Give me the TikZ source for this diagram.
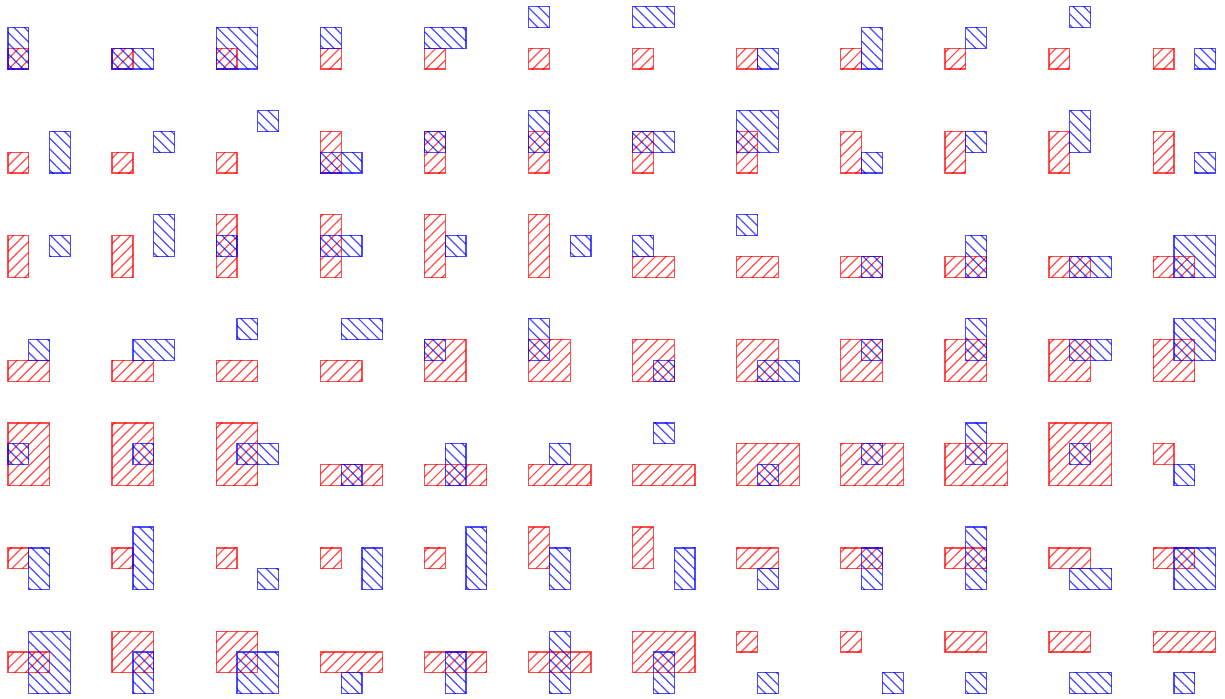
\documentclass[tikz,border=0pt]{standalone}
\usetikzlibrary{patterns.meta}
\begin{document}
\begin{tikzpicture}[x=0.3cm,y=0.3cm,
  redbox/.style={draw=red,draw opacity=0.7,line width=0.5pt,pattern={Lines[angle=45,distance=3.1pt,line width=0.5pt]},pattern color=red},
  bluebox/.style={draw=blue,draw opacity=0.7,line width=0.5pt,pattern={Lines[angle=-45,distance=3.1pt,line width=0.5pt]},pattern color=blue}]
\useasboundingbox (-0.384,-30.21) rectangle (58.45,3.314);
\foreach \c/\r/\ra/\rb/\rc/\rd/\ba/\bb/\bc/\bd in {
  1/1/0/0/1/1/0/0/1/2, 2/1/0/0/1/1/0/0/2/1, 3/1/0/0/1/1/0/0/2/2, 4/1/0/0/1/1/0/1/1/2,
  5/1/0/0/1/1/0/1/2/2, 6/1/0/0/1/1/0/2/1/3, 7/1/0/0/1/1/0/2/2/3, 8/1/0/0/1/1/1/0/2/1,
  9/1/0/0/1/1/1/0/2/2, 10/1/0/0/1/1/1/1/2/2, 11/1/0/0/1/1/1/2/2/3, 12/1/0/0/1/1/2/0/3/1,
  1/2/0/0/1/1/2/0/3/2, 2/2/0/0/1/1/2/1/3/2, 3/2/0/0/1/1/2/2/3/3, 4/2/0/0/1/2/0/0/2/1,
  5/2/0/0/1/2/0/1/1/2, 6/2/0/0/1/2/0/1/1/3, 7/2/0/0/1/2/0/1/2/2, 8/2/0/0/1/2/0/1/2/3,
  9/2/0/0/1/2/1/0/2/1, 10/2/0/0/1/2/1/1/2/2, 11/2/0/0/1/2/1/1/2/3, 12/2/0/0/1/2/2/0/3/1,
  1/3/0/0/1/2/2/1/3/2, 2/3/0/0/1/2/2/1/3/3, 3/3/0/0/1/3/0/1/1/2, 4/3/0/0/1/3/0/1/2/2,
  5/3/0/0/1/3/1/1/2/2, 6/3/0/0/1/3/2/1/3/2, 7/3/0/0/2/1/0/1/1/2, 8/3/0/0/2/1/0/2/1/3,
  9/3/0/0/2/1/1/0/2/1, 10/3/0/0/2/1/1/0/2/2, 11/3/0/0/2/1/1/0/3/1, 12/3/0/0/2/1/1/0/3/2,
  1/4/0/0/2/1/1/1/2/2, 2/4/0/0/2/1/1/1/3/2, 3/4/0/0/2/1/1/2/2/3, 4/4/0/0/2/1/1/2/3/3,
  5/4/0/0/2/2/0/1/1/2, 6/4/0/0/2/2/0/1/1/3, 7/4/0/0/2/2/1/0/2/1, 8/4/0/0/2/2/1/0/3/1,
  9/4/0/0/2/2/1/1/2/2, 10/4/0/0/2/2/1/1/2/3, 11/4/0/0/2/2/1/1/3/2, 12/4/0/0/2/2/1/1/3/3,
  1/5/0/0/2/3/0/1/1/2, 2/5/0/0/2/3/1/1/2/2, 3/5/0/0/2/3/1/1/3/2, 4/5/0/0/3/1/1/0/2/1,
  5/5/0/0/3/1/1/0/2/2, 6/5/0/0/3/1/1/1/2/2, 7/5/0/0/3/1/1/2/2/3, 8/5/0/0/3/2/1/0/2/1,
  9/5/0/0/3/2/1/1/2/2, 10/5/0/0/3/2/1/1/2/3, 11/5/0/0/3/3/1/1/2/2, 12/5/0/1/1/2/1/0/2/1,
  1/6/0/1/1/2/1/0/2/2, 2/6/0/1/1/2/1/0/2/3, 3/6/0/1/1/2/2/0/3/1, 4/6/0/1/1/2/2/0/3/2,
  5/6/0/1/1/2/2/0/3/3, 6/6/0/1/1/3/1/0/2/2, 7/6/0/1/1/3/2/0/3/2, 8/6/0/1/2/2/1/0/2/1,
  9/6/0/1/2/2/1/0/2/2, 10/6/0/1/2/2/1/0/2/3, 11/6/0/1/2/2/1/0/3/1, 12/6/0/1/2/2/1/0/3/2,
  1/7/0/1/2/2/1/0/3/3, 2/7/0/1/2/3/1/0/2/2, 3/7/0/1/2/3/1/0/3/2, 4/7/0/1/3/2/1/0/2/1,
  5/7/0/1/3/2/1/0/2/2, 6/7/0/1/3/2/1/0/2/3, 7/7/0/1/3/3/1/0/2/2, 8/7/0/2/1/3/1/0/2/1,
  9/7/0/2/1/3/2/0/3/1, 10/7/0/2/2/3/1/0/2/1, 11/7/0/2/2/3/1/0/3/1, 12/7/0/2/3/3/1/0/2/1}
{
  \begin{scope}[shift={({5*(\c-1)},{-5*(\r-1)})}]
    \draw[redbox] (\ra,\rb) rectangle (\rc,\rd);
    \draw[bluebox] (\ba,\bb) rectangle (\bc,\bd);
  \end{scope}
}
\end{tikzpicture}
\end{document}
